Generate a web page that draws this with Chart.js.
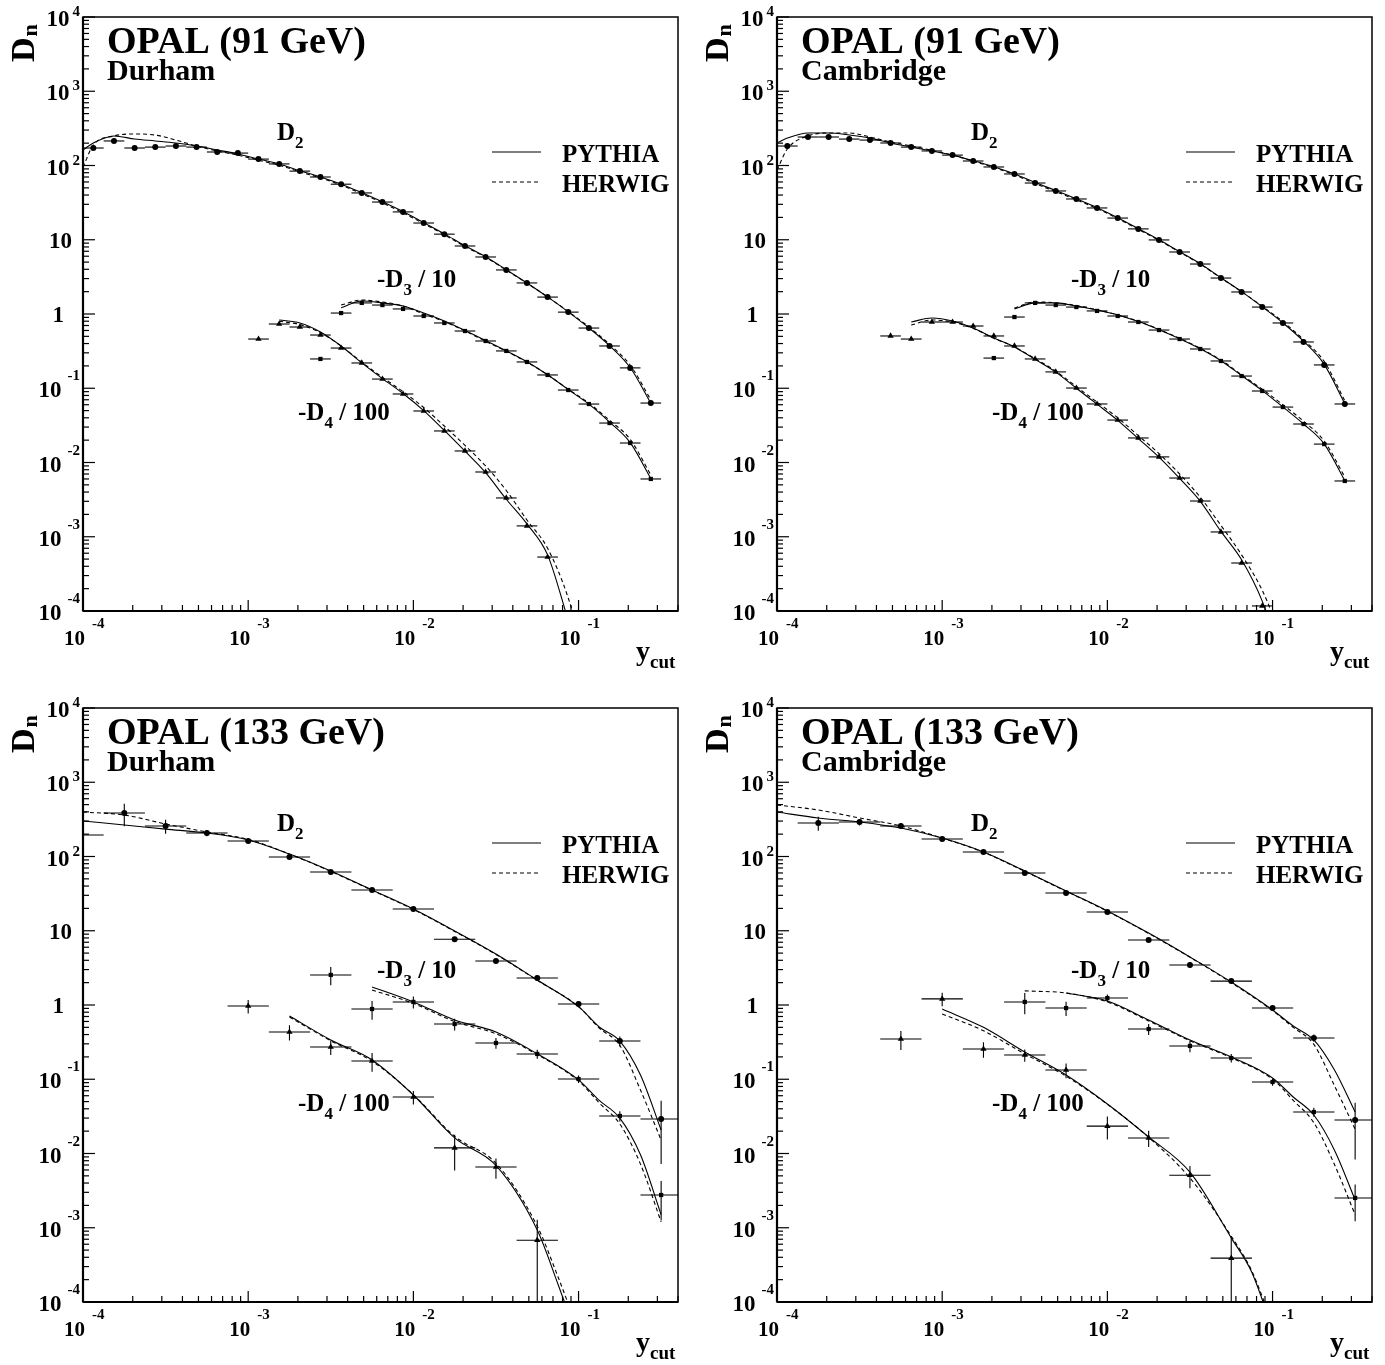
<!DOCTYPE html>
<html>
<head>
<meta charset="utf-8">
<title>OPAL D_n versus y_cut</title>
<script src="https://cdn.jsdelivr.net/npm/chart.js@4.4.1/dist/chart.umd.min.js"></script>
<style>
  html, body { margin: 0; padding: 0; background: #fff; }
  body { position: relative; width: 1385px; height: 1365px; overflow: hidden; }
  canvas { position: absolute; }
</style>
</head>
<body>
<canvas id="p0" width="692" height="674" style="left:0;top:0"></canvas>
<canvas id="p1" width="692" height="674" style="left:694px;top:0"></canvas>
<canvas id="p2" width="692" height="674" style="left:0;top:691px"></canvas>
<canvas id="p3" width="692" height="674" style="left:694px;top:691px"></canvas>
<script>
const N = null;

// ---- 91 GeV: 1/8-decade bins (centres) and MC curve points ----
const ycut91 = [1.155e-4, 1.540e-4, 2.054e-4, 2.738e-4, 3.652e-4, 4.870e-4, 6.494e-4, 8.660e-4,
  1.155e-3, 1.540e-3, 2.054e-3, 2.738e-3, 3.652e-3, 4.870e-3, 6.494e-3, 8.660e-3,
  1.155e-2, 1.540e-2, 2.054e-2, 2.738e-2, 3.652e-2, 4.870e-2, 6.494e-2, 8.660e-2,
  0.1155, 0.1540, 0.2054, 0.2738];
const ycutMC91 = [1.0e-4, 1.155e-4, 1.540e-4, 2.054e-4, 2.738e-4, 3.652e-4, 4.870e-4, 6.494e-4, 8.660e-4,
  1.155e-3, 1.540e-3, 2.054e-3, 2.738e-3, 3.652e-3, 4.870e-3, 6.494e-3, 8.660e-3,
  1.155e-2, 1.540e-2, 2.054e-2, 2.738e-2, 3.652e-2, 4.870e-2, 6.494e-2, 8.660e-2,
  0.1155, 0.1540, 0.2054, 0.2738];

// Durham, 91 GeV
const dur91D2 = [172, 214, 172, 177, 183, 177, 152, 147, 122, 105, 84, 70, 56, 42.7, 32.2, 23.7,
  16.8, 11.9, 8.24, 5.86, 3.92, 2.62, 1.69, 1.06, 0.647, 0.371, 0.188, 0.0632];
const dur91D3 = [N, N, N, N, N, N, N, N, N, N, N, 0.248, 1.03, 1.41, 1.32, 1.17,
  0.94, 0.757, 0.590, 0.433, 0.318, 0.226, 0.151, 0.0946, 0.0613, 0.0340, 0.0183, 0.0060];
const dur91D4 = [N, N, N, N, N, N, N, N, 0.46, 0.733, 0.668, 0.521, 0.348, 0.219, 0.133, 0.0837,
  0.0494, 0.0266, 0.0143, 0.00745, 0.00333, 0.0014, 5.33e-4, N, N, N, N, N];
const dur91PyD2 = [162, 201, 250, 227, 214, 201, 183, 162, 143, 122, 105, 85, 70, 56, 43, 32.5, 24,
  17, 12, 8.3, 5.9, 3.95, 2.62, 1.7, 1.07, 0.65, 0.375, 0.19, 0.063];
const dur91HwD2 = [95, 189, 250, 266, 257, 220, 183, 157, 138, 118, 101, 82, 68, 54.5, 41.5, 31.5, 23,
  16.5, 11.7, 8.1, 5.8, 3.9, 2.6, 1.7, 1.08, 0.67, 0.39, 0.205, 0.07];
const dur91PyD3 = [N, N, N, N, N, N, N, N, N, N, N, N, N, 1.21, 1.50, 1.41, 1.28, 1.03, 0.805,
  0.60, 0.44, 0.32, 0.228, 0.152, 0.096, 0.061, 0.035, 0.0185, 0.0061];
const dur91HwD3 = [N, N, N, N, N, N, N, N, N, N, N, N, N, 1.32, 1.54, 1.45, 1.28, 1.0, 0.79,
  0.59, 0.43, 0.315, 0.225, 0.152, 0.097, 0.063, 0.037, 0.0205, 0.0068];
const dur91PyD4 = [N, N, N, N, N, N, N, N, N, N, 0.83, 0.757, 0.573, 0.371, 0.22, 0.135, 0.085,
  0.05, 0.027, 0.0142, 0.0073, 0.0032, 0.00149, 5.7e-4, 7.5e-5, N, N, N, N];
const dur91HwD4 = [N, N, N, N, N, N, N, N, N, N, 0.80, 0.72, 0.56, 0.37, 0.225, 0.14, 0.09,
  0.055, 0.031, 0.017, 0.0090, 0.0042, 0.00168, 7.0e-4, 1.5e-4, 1.5e-5, N, N, N];

// Cambridge, 91 GeV
const cam91D2 = [183, 242, 242, 227, 220, 201, 177, 157, 138, 115, 95.5, 76.9, 58.1, 45.4, 35.4, 26.8,
  19.6, 14.0, 9.94, 6.84, 4.71, 3.05, 1.98, 1.24, 0.757, 0.42, 0.206, 0.0614];
const cam91D3 = [N, N, N, N, N, N, N, N, N, N, 0.255, 0.91, 1.41, 1.32, 1.24, 1.10,
  0.94, 0.78, 0.608, 0.46, 0.338, 0.233, 0.146, 0.0918, 0.0558, 0.033, 0.0177, 0.00564];
const cam91D4 = [N, N, N, N, N, 0.506, 0.46, 0.78, 0.78, 0.689, 0.506, 0.371, 0.248, 0.166, 0.1007, 0.0614,
  0.0373, 0.0214, 0.0119, 0.00618, 0.00303, 0.00116, 4.43e-4, 1.17e-4, N, N, N, N];
const cam91PyD2 = [201, 234, 274, 274, 258, 234, 201, 177, 157, 138, 116, 96, 77, 59, 46, 35.5, 27,
  19.8, 14.1, 10, 6.9, 4.75, 3.08, 2.0, 1.25, 0.76, 0.43, 0.21, 0.062];
const cam91HwD2 = [87, 167, 250, 274, 274, 242, 207, 183, 160, 138, 114, 94, 75, 57, 44.5, 34.5, 26.3,
  19.3, 13.8, 9.8, 6.8, 4.7, 3.05, 2.0, 1.27, 0.79, 0.45, 0.23, 0.068];
const cam91PyD3 = [N, N, N, N, N, N, N, N, N, N, N, N, 1.17, 1.41, 1.41, 1.28, 1.13, 0.97, 0.79,
  0.615, 0.465, 0.34, 0.235, 0.148, 0.093, 0.056, 0.033, 0.0178, 0.0057];
const cam91HwD3 = [N, N, N, N, N, N, N, N, N, N, N, N, 1.2, 1.45, 1.42, 1.3, 1.14, 0.97, 0.8,
  0.62, 0.47, 0.345, 0.24, 0.152, 0.097, 0.06, 0.036, 0.0195, 0.0064];
const cam91PyD4 = [N, N, N, N, N, N, N, 0.78, 0.883, 0.805, 0.647, 0.475, 0.36, 0.245, 0.165, 0.1,
  0.061, 0.037, 0.021, 0.0118, 0.0061, 0.003, 0.00118, 4.9e-4, 1.36e-4, 2e-5, N, N, N];
const cam91HwD4 = [N, N, N, N, N, N, N, 0.71, 0.83, 0.78, 0.64, 0.47, 0.36, 0.25, 0.17, 0.105,
  0.065, 0.04, 0.023, 0.0132, 0.0070, 0.0034, 0.00142, 5.7e-4, 1.9e-4, 4e-5, N, N, N];

// ---- 133 GeV: quarter-decade points and 1/8-decade MC curve points ----
const ycut133 = [1e-4, 1.778e-4, 3.162e-4, 5.623e-4, 1e-3, 1.778e-3, 3.162e-3, 5.623e-3,
  1e-2, 1.778e-2, 3.162e-2, 5.623e-2, 0.1, 0.1778, 0.3162];
const ycutMC133 = [1e-4, 1.334e-4, 1.778e-4, 2.371e-4, 3.162e-4, 4.217e-4, 5.623e-4, 7.499e-4,
  1e-3, 1.334e-3, 1.778e-3, 2.371e-3, 3.162e-3, 4.217e-3, 5.623e-3, 7.499e-3,
  1e-2, 1.334e-2, 1.778e-2, 2.371e-2, 3.162e-2, 4.217e-2, 5.623e-2, 7.499e-2,
  0.1, 0.1334, 0.1778, 0.2371, 0.3162];

// Durham, 133 GeV
const dur133D2 = [195, 385, 258, 207, 162, 98.4, 61.8, 35.4, 19.6, 7.7, 3.92, 2.31, 1.03, 0.327, 0.0292];
const dur133D2err = [0, 130, 55, 20, 10, 5, 3, 1.5, 1, 0.6, 0.3, 0.2, 0.1, 0.05, 0.022];
const dur133D3 = [N, N, N, N, N, N, 2.54, 0.883, 1.10, 0.555, 0.308, 0.219, 0.1007, 0.032, 0.00276];
const dur133D3err = [N, N, N, N, N, N, 0.7, 0.25, 0.2, 0.1, 0.05, 0.03, 0.012, 0.005, 0.0015];
const dur133D4 = [N, N, N, N, 0.97, 0.433, 0.272, 0.176, 0.0577, 0.0119, 0.00658, 6.8e-4, N, N, N];
const dur133D4err = [N, N, N, N, 0.2, 0.1, 0.06, 0.05, 0.012, 0.006, 0.002, 6e-4, N, N, N];
const dur133PyD2 = [301, N, 266, N, 234, N, 207, N, 167, N, 108, N, 63.8, N, 35.4, N, 19.6, N, 9.94, N,
  4.86, N, 2.17, N, 0.95, 0.506, 0.327, 0.114, 0.0207];
const dur133HwD2 = [397, N, 362, N, 274, N, 214, N, 170, N, 108, N, 63, N, 35, N, 19.4, N, 9.8, N,
  4.8, N, 2.15, N, 0.95, 0.49, 0.285, 0.0716, 0.0152];
const dur133PyD3 = [N, N, N, N, N, N, N, N, N, N, N, N, N, N, 1.75, N, 1.1, N, 0.628, N,
  0.433, N, 0.22, N, 0.098, 0.052, 0.030, 0.0096, 0.0015];
const dur133HwD3 = [N, N, N, N, N, N, N, N, N, N, N, N, N, N, 1.59, N, 1.05, N, 0.6, N,
  0.41, N, 0.215, N, 0.095, 0.048, 0.025, 0.0072, 0.0012];
const dur133PyD4 = [N, N, N, N, N, N, N, N, N, N, 0.711, N, 0.338, N, 0.182, N, 0.0614, N, 0.0162, N,
  0.0069, N, 9.3e-4, 1.75e-4, 3e-5, N, N, N, N];
const dur133HwD4 = [N, N, N, N, N, N, N, N, N, N, 0.69, N, 0.33, N, 0.175, N, 0.062, N, 0.017, N,
  0.0074, N, 0.00105, 2.2e-4, 4e-5, N, N, N, N];

// Cambridge, 133 GeV
const cam133D2 = [N, 283, 291, 258, 172, 115, 60, 32.2, 17.9, 7.5, 3.46, 2.1, 0.91, 0.36, 0.0283];
const cam133D2err = [N, 60, 30, 20, 10, 6, 3, 1.5, 0.8, 0.5, 0.3, 0.15, 0.08, 0.04, 0.02];
const cam133D3 = [N, N, N, N, N, N, 1.10, 0.91, 1.24, 0.475, 0.281, 0.193, 0.0918, 0.0362, 0.00252];
const cam133D3err = [N, N, N, N, N, N, 0.35, 0.2, 0.15, 0.08, 0.05, 0.025, 0.01, 0.005, 0.0013];
const cam133D4 = [N, N, N, 0.348, 1.21, 0.255, 0.212, 0.133, 0.0234, 0.0162, 0.0051, 3.9e-4, N, N, N];
const cam133D4err = [N, N, N, 0.1, 0.25, 0.06, 0.04, 0.03, 0.008, 0.004, 0.0017, 3.8e-4, N, N, N];
const cam133PyD2 = [397, N, 330, N, 292, N, 242, N, 177, N, 115, N, 64, N, 34.3, N, 18.5, N, 9.3, N,
  4.43, N, 2.04, N, 0.857, 0.521, 0.338, 0.133, 0.0362];
const cam133HwD2 = [494, N, 423, N, 330, N, 258, N, 177, N, 114, N, 63, N, 34, N, 18.3, N, 9.2, N,
  4.4, N, 2.0, N, 0.84, 0.5, 0.295, 0.0817, 0.0213];
const cam133PyD3 = [N, N, N, N, N, N, N, N, N, N, N, N, N, N, 1.45, N, 1.13, N, 0.628, N,
  0.338, N, 0.2, N, 0.104, 0.0577, 0.033, 0.0111, 0.00237];
const cam133HwD3 = [N, N, N, N, N, N, N, N, N, N, N, N, 1.55, N, 1.45, N, 1.1, N, 0.61, N,
  0.33, N, 0.195, N, 0.1, 0.052, 0.026, 0.0071, 0.0015];
const cam133PyD4 = [N, N, N, N, N, N, N, N, 0.883, N, 0.5, N, 0.233, N, 0.114, N, 0.0465, N, 0.0167, N,
  0.0056, N, 7.3e-4, 2.5e-4, 4.3e-5, N, N, N, N];
const cam133HwD4 = [N, N, N, N, N, N, N, N, 0.757, N, 0.45, N, 0.22, N, 0.11, N, 0.046, N, 0.0165, N,
  0.00468, N, 7.7e-4, 2.6e-4, 5e-5, N, N, N, N];

const FONT = '"Liberation Serif", "Times New Roman", serif';

function markers(xs, ys, errs, style, bin) {
  const data = [];
  xs.forEach((x, i) => { if (ys[i] != null) data.push({ x: x, y: ys[i], e: errs ? errs[i] : 0 }); });
  return {
    data, bin, showLine: false, pointStyle: style,
    pointRadius: c => (c.raw && c.raw.x <= 1e-4 ? 0 : (style === 'triangle' ? 3.6 : 3)),
    pointBackgroundColor: '#000', pointBorderColor: '#000', pointBorderWidth: 0
  };
}

function curve(xs, ys, dashed) {
  const data = [];
  xs.forEach((x, i) => { if (ys[i] != null) data.push({ x: x, y: ys[i] }); });
  return {
    data, showLine: true, pointRadius: 0, borderColor: '#000', borderWidth: 1.1,
    borderDash: dashed ? [4, 3] : [], cubicInterpolationMode: 'monotone', fill: false
  };
}

function tx(ctx, s, x, y, size, align) {
  ctx.font = 'bold ' + size + 'px ' + FONT;
  ctx.textAlign = align || 'left';
  ctx.fillText(s, x, y);
  return ctx.measureText(s).width;
}

function seg(ctx, x1, y1, x2, y2) {
  ctx.beginPath(); ctx.moveTo(x1, y1); ctx.lineTo(x2, y2); ctx.stroke();
}

// label like "-D" + subscript + rest
function subLabel(ctx, x, y, main, sub, rest, size) {
  let cx = x;
  cx += tx(ctx, main, cx, y, size);
  cx += tx(ctx, sub, cx, y + 8, Math.round(size * 0.68));
  if (rest) tx(ctx, rest, cx, y, size);
}

const ownAxes = {
  id: 'ownAxes',
  beforeDatasetsDraw(chart) {
    const { ctx, chartArea: a, scales: { x, y } } = chart;
    ctx.save();
    ctx.beginPath();
    ctx.rect(a.left, a.top, a.right - a.left, a.bottom - a.top);
    ctx.clip();
    ctx.strokeStyle = '#000';
    ctx.lineWidth = 1.1;
    chart.data.datasets.forEach(ds => {
      if (!ds.bin) return;
      ds.data.forEach(p => {
        const px = x.getPixelForValue(p.x), py = y.getPixelForValue(p.y);
        ctx.beginPath();
        ctx.moveTo(x.getPixelForValue(p.x / ds.bin), py);
        ctx.lineTo(x.getPixelForValue(p.x * ds.bin), py);
        if (p.e) {
          const lo = p.y - p.e;
          ctx.moveTo(px, lo > 0 ? y.getPixelForValue(lo) : a.bottom + 5);
          ctx.lineTo(px, y.getPixelForValue(p.y + p.e));
        }
        ctx.stroke();
      });
    });
    ctx.restore();
  },
  afterDraw(chart, args, o) {
    const { ctx, chartArea: a, scales: { x, y } } = chart;
    ctx.save();
    ctx.strokeStyle = '#000';
    ctx.fillStyle = '#000';
    ctx.textBaseline = 'alphabetic';

    // frame
    ctx.lineWidth = 1.5;
    ctx.strokeRect(a.left, a.top, a.right - a.left, a.bottom - a.top);
    ctx.lineWidth = 2.2;
    seg(ctx, a.left, a.bottom, a.right, a.bottom);
    seg(ctx, a.left, a.top, a.left, a.bottom);

    // y axis ticks + labels
    ctx.lineWidth = 1.2;
    for (let d = -4; d <= 4; d++) {
      const py = y.getPixelForValue(Math.pow(10, d));
      seg(ctx, a.left, py, a.left + 12, py);
      if (d < 4) {
        for (let m = 2; m < 10; m++) {
          const q = y.getPixelForValue(m * Math.pow(10, d));
          seg(ctx, a.left, q, a.left + 6, q);
        }
      }
      if (d === 0) tx(ctx, '1', a.left - 19, py + 8, 23, 'right');
      else if (d === 1) tx(ctx, '10', a.left - 11, py + 8, 23, 'right');
      else {
        ctx.font = 'bold 15px ' + FONT;
        const ew = ctx.measureText(String(d)).width;
        tx(ctx, String(d), a.left - 3, py + (d > 0 ? -1 : -8), 15, 'right');
        tx(ctx, '10', a.left - 3 - ew - (d > 0 ? 3 : 6), py + 9, 23, 'right');
      }
    }

    // x axis ticks + labels
    for (let d = -4; d <= -1; d++) {
      const px = x.getPixelForValue(Math.pow(10, d));
      seg(ctx, px, a.bottom, px, a.bottom - 11);
      for (let m = 2; m < 10; m++) {
        const v = m * Math.pow(10, d);
        if (v > x.max) break;
        const q = x.getPixelForValue(v);
        seg(ctx, q, a.bottom, q, a.bottom - 6);
      }
      tx(ctx, '10', px + 2, a.bottom + 34, 21, 'right');
      tx(ctx, String(d), px + 9, a.bottom + 17, 15, 'left');
    }

    // axis titles
    subLabel(ctx, a.right - 42, a.bottom + 49, 'y', 'cut', '', 28);
    ctx.save();
    ctx.translate(a.left - 49, a.top + 45);
    ctx.rotate(-Math.PI / 2);
    const dw = tx(ctx, 'D', 0, 0, 34);
    tx(ctx, 'n', dw + 1, 3, 22);
    ctx.restore();

    // titles
    tx(ctx, o.energy, a.left + 24, a.top + 36, 38);
    tx(ctx, o.algo, a.left + 24, a.top + 63, 30);

    // curve labels
    subLabel(ctx, a.left + 194, a.top + 123, 'D', '2', '', 25);
    subLabel(ctx, a.left + 294, a.top + 270, '-D', '3', ' / 10', 25);
    subLabel(ctx, a.left + 215, a.top + 403, '-D', '4', ' / 100', 25);

    // legend
    ctx.lineWidth = 1.2;
    seg(ctx, a.left + 409, a.top + 135, a.left + 458, a.top + 135);
    ctx.setLineDash([4, 3]);
    seg(ctx, a.left + 409, a.top + 165, a.left + 458, a.top + 165);
    ctx.setLineDash([]);
    tx(ctx, 'PYTHIA', a.left + 479, a.top + 145, 25);
    tx(ctx, 'HERWIG', a.left + 479, a.top + 175, 25);
    ctx.restore();
  }
};

const BIN91 = 1.1548;   // half a 1/8-decade bin
const BIN133 = 1.3335;  // half a 1/4-decade bin

const panels = [
  { id: 'p0', energy: 'OPAL (91 GeV)', algo: 'Durham', xs: ycut91, xmc: ycutMC91, bin: BIN91,
    d2: dur91D2, d3: dur91D3, d4: dur91D4, e2: null, e3: null, e4: null,
    py2: dur91PyD2, hw2: dur91HwD2, py3: dur91PyD3, hw3: dur91HwD3, py4: dur91PyD4, hw4: dur91HwD4 },
  { id: 'p1', energy: 'OPAL (91 GeV)', algo: 'Cambridge', xs: ycut91, xmc: ycutMC91, bin: BIN91,
    d2: cam91D2, d3: cam91D3, d4: cam91D4, e2: null, e3: null, e4: null,
    py2: cam91PyD2, hw2: cam91HwD2, py3: cam91PyD3, hw3: cam91HwD3, py4: cam91PyD4, hw4: cam91HwD4 },
  { id: 'p2', energy: 'OPAL (133 GeV)', algo: 'Durham', xs: ycut133, xmc: ycutMC133, bin: BIN133,
    d2: dur133D2, d3: dur133D3, d4: dur133D4, e2: dur133D2err, e3: dur133D3err, e4: dur133D4err,
    py2: dur133PyD2, hw2: dur133HwD2, py3: dur133PyD3, hw3: dur133HwD3, py4: dur133PyD4, hw4: dur133HwD4 },
  { id: 'p3', energy: 'OPAL (133 GeV)', algo: 'Cambridge', xs: ycut133, xmc: ycutMC133, bin: BIN133,
    d2: cam133D2, d3: cam133D3, d4: cam133D4, e2: cam133D2err, e3: cam133D3err, e4: cam133D4err,
    py2: cam133PyD2, hw2: cam133HwD2, py3: cam133PyD3, hw3: cam133HwD3, py4: cam133PyD4, hw4: cam133HwD4 }
];

panels.forEach(p => {
  new Chart(document.getElementById(p.id), {
    type: 'scatter',
    data: {
      datasets: [
        curve(p.xmc, p.py2, false), curve(p.xmc, p.hw2, true),
        curve(p.xmc, p.py3, false), curve(p.xmc, p.hw3, true),
        curve(p.xmc, p.py4, false), curve(p.xmc, p.hw4, true),
        markers(p.xs, p.d2, p.e2, 'circle', p.bin),
        markers(p.xs, p.d3, p.e3, 'rect', p.bin),
        markers(p.xs, p.d4, p.e4, 'triangle', p.bin)
      ]
    },
    options: {
      responsive: false,
      animation: false,
      events: [],
      layout: { padding: { left: 0, right: 14, top: 17, bottom: 0 } },
      plugins: {
        legend: { display: false },
        tooltip: { enabled: false },
        ownAxes: { energy: p.energy, algo: p.algo }
      },
      scales: {
        x: {
          type: 'logarithmic', min: 1e-4, max: 0.4,
          ticks: { display: false }, grid: { display: false }, border: { display: false },
          afterFit: s => { s.height = 63; }
        },
        y: {
          type: 'logarithmic', min: 1e-4, max: 1e4,
          ticks: { display: false }, grid: { display: false }, border: { display: false },
          afterFit: s => { s.width = 83; }
        }
      }
    },
    plugins: [ownAxes]
  });
});
</script>
</body>
</html>
